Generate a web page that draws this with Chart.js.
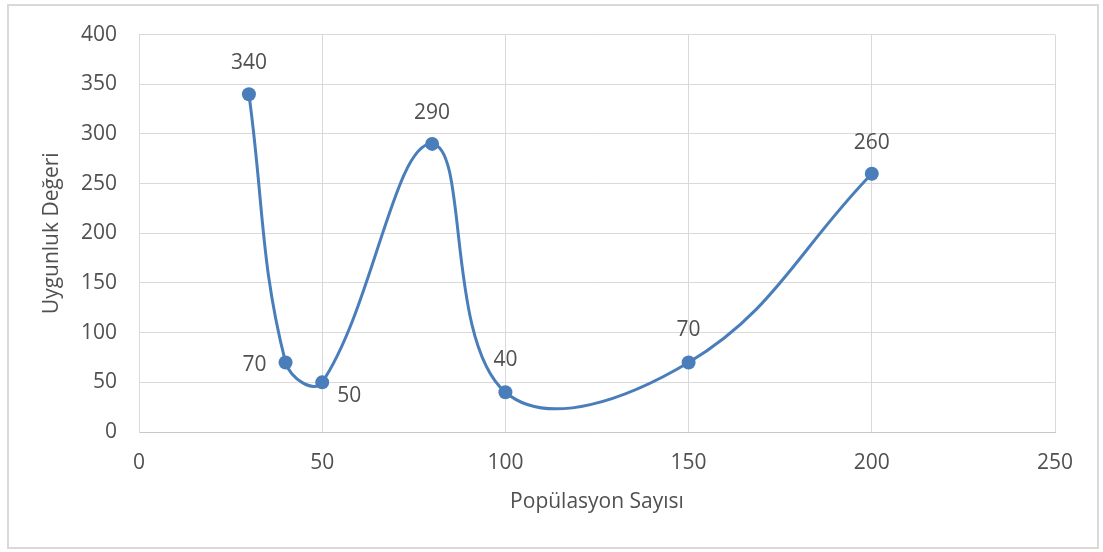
<!DOCTYPE html>
<html>
<head>
<meta charset="utf-8">
<script src="https://cdn.jsdelivr.net/npm/chart.js@4/dist/chart.umd.min.js"></script>
<style>
  html, body { margin: 0; padding: 0; background: #ffffff; }
  #wrap { position: relative; width: 1103px; height: 552px; }
  #frame {
    position: absolute; left: 7px; top: 4px; width: 1092px; height: 545px;
    border: 2px solid #d9d9d9; box-sizing: border-box; pointer-events: none;
  }
  canvas { position: absolute; left: 0; top: 0; }
</style>
</head>
<body>
<div id="wrap">
  <canvas id="chart" width="1103" height="552"></canvas>
  <div id="frame"></div>
</div>
<script>
// Values
const populationSizes = [30, 40, 50, 80, 100, 150, 200];
const fitnessValues = [340, 70, 50, 290, 40, 70, 260];
const xTicks = [0, 50, 100, 150, 200, 250];
const yTicks = [0, 50, 100, 150, 200, 250, 300, 350, 400];

const lineColor = '#4a7ebb';
const textColor = '#505050';
const gridColor = '#d9d9d9';
const fontFamily = '"Open Sans", Lato, sans-serif';
const fontSize = 21;

// Draw the value labels next to each point (Excel style data labels)
const pointLabels = {
    id: 'pointLabels',
    afterDatasetsDraw: function (chart, args, opts) {
        const ctx = chart.ctx;
        ctx.save();
        ctx.font = opts.size + 'px ' + fontFamily;
        ctx.fillStyle = textColor;
        ctx.textAlign = 'center';
        ctx.textBaseline = 'middle';
        chart.data.datasets.forEach(function (ds, i) {
            const meta = chart.getDatasetMeta(i);
            meta.data.forEach(function (el, j) {
                const off = opts.offsets[j] || [0, -31];
                ctx.fillText(String(ds.data[j].y), el.x + off[0], el.y + off[1]);
            });
        });
        ctx.restore();
    }
};

const ctx = document.getElementById('chart').getContext('2d');

new Chart(ctx, {
    type: 'scatter',
    data: {
        datasets: [{
            label: 'Uygunluk Değeri',
            data: populationSizes.map((x, i) => ({ x: x, y: fitnessValues[i] })),
            showLine: true,
            tension: 0.4,
            borderColor: lineColor,
            borderWidth: 3,
            backgroundColor: lineColor,
            pointRadius: 7,
            pointBorderWidth: 0,
            pointBackgroundColor: lineColor
        }]
    },
    options: {
        responsive: false,
        animation: false,
        layout: { padding: { left: 0, top: 33, right: 48, bottom: 0 } },
        plugins: {
            legend: { display: false },
            tooltip: { enabled: false },
            pointLabels: {
                size: fontSize,
                offsets: [[0, -31], [-31, 3], [27, 14], [0, -31], [0, -32], [0, -32], [0, -31]]
            }
        },
        scales: {
            x: {
                type: 'linear',
                min: 0,
                max: 250,
                afterBuildTicks: function (axis) {
                    axis.ticks = xTicks.map(v => ({ value: v }));
                },
                afterFit: function (axis) { axis.height = 120; },
                grid: { color: gridColor, drawTicks: false },
                border: { color: '#c9c9c9', width: 1 },
                ticks: {
                    color: textColor,
                    padding: 18,
                    font: { family: fontFamily, size: fontSize }
                },
                title: {
                    display: true,
                    text: 'Popülasyon Sayısı',
                    color: textColor,
                    font: { family: fontFamily, size: fontSize },
                    padding: { top: 0, bottom: 37 }
                }
            },
            y: {
                type: 'linear',
                min: 0,
                max: 400,
                afterBuildTicks: function (axis) {
                    axis.ticks = yTicks.map(v => ({ value: v }));
                },
                afterFit: function (axis) { axis.width = 139; },
                grid: { color: gridColor, drawTicks: false },
                border: { color: gridColor, width: 1 },
                ticks: {
                    color: textColor,
                    padding: 22,
                    font: { family: fontFamily, size: fontSize }
                },
                title: {
                    display: true,
                    text: 'Uygunluk Değeri',
                    color: textColor,
                    font: { family: fontFamily, size: fontSize },
                    padding: { top: 39, bottom: 0 }
                }
            }
        }
    },
    plugins: [pointLabels]
});
</script>
</body>
</html>
